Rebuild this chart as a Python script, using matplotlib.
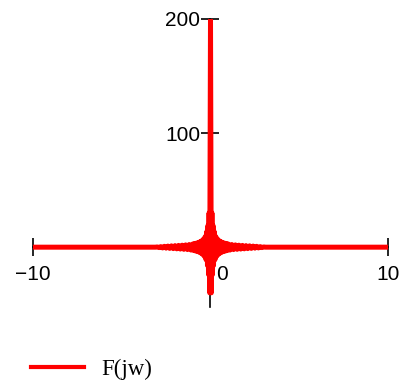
import numpy as np
import matplotlib
matplotlib.use("Agg")
import matplotlib.pyplot as plt

# Spectrum samples for w >= 0 (the curve is even in w)
w_pos = [0.045, 0.08, 0.11, 0.14, 0.17, 0.20, 0.25, 0.30, 0.35, 0.40,
         0.45, 0.50, 0.55, 0.60, 0.65, 0.70, 0.75, 0.80, 0.85, 0.90,
         0.95, 1.00, 1.10, 1.20, 1.30, 1.40, 1.50, 1.60, 1.70, 1.80,
         1.90, 2.00, 2.10, 2.20, 2.30, 2.40, 2.50, 2.60, 2.70, 2.80,
         2.90, 3.00, 3.10, 10.0]
F_pos = [-40.0, 30.0, -24.0, 19.0, -16.0, 14.0, -11.0, 9.3, -8.0, 7.0,
         -6.2, 5.6, -5.1, 4.7, -4.3, 4.0, -3.7, 3.5, -3.3, 3.1,
         -2.9, 2.8, -2.5, 2.3, -2.1, 2.0, -1.9, 1.75, -1.65, 1.55,
         -1.45, 1.35, -1.25, 1.15, -1.05, 0.95, -0.85, 0.75, -0.65, 0.5,
         -0.35, 0.2, 0.0, 0.0]
F_peak = 200.0

x_ticks = [-10, 0, 10]
x_ticklabels = ["\u221210", "", "10"]
y_ticks = [100, 200]
y_ticklabels = ["100", "200"]
x_limits = (-10, 10)
y_limits = (-52, 200)

wp = np.array(w_pos)
fp = np.array(F_pos)
w = np.concatenate([-wp[::-1], [0.0], wp])
F = np.concatenate([fp[::-1], [F_peak], fp])

plt.rcParams["font.family"] = ["Liberation Sans", "DejaVu Sans"]

fig = plt.figure(figsize=(4.09, 3.88), dpi=100)
ax = fig.add_axes([33 / 409, (388 - 306.5) / 388, (388 - 33) / 409, (306.5 - 19) / 388])

line, = ax.plot(w, F, color="#ff0000", linewidth=3.6, zorder=3,
                solid_joinstyle="round", label="F(jw)")

ax.set_xlim(*x_limits)
ax.set_ylim(*y_limits)

for side in ("top", "right"):
    ax.spines[side].set_visible(False)
ax.spines["left"].set_position(("data", 0))
ax.spines["bottom"].set_position(("data", 0))
for side in ("left", "bottom"):
    ax.spines[side].set_linewidth(1.2)
    ax.spines[side].set_color("black")

ax.set_xticks(x_ticks)
ax.set_xticklabels(x_ticklabels)
ax.set_yticks(y_ticks)
ax.set_yticklabels(y_ticklabels)
ax.tick_params(axis="both", direction="inout", length=13, width=1.2,
               labelsize=15, colors="black")
ax.tick_params(axis="x", pad=6)
ax.tick_params(axis="y", pad=1)

# label for the origin, set off to the lower right of the crossing
ax.annotate("0", xy=(0, 0), xytext=(8, -13), textcoords="offset points",
            ha="center", va="top", fontsize=15)

ax.patch.set_visible(False)

leg = fig.legend(handles=[line], loc="center left",
                 bbox_to_anchor=(31 / 409, 1 - 369 / 388),
                 frameon=False, borderpad=0, borderaxespad=0,
                 handlelength=2.3, handletextpad=0.75,
                 prop={"family": ["Liberation Serif", "DejaVu Serif"], "size": 16.5})
leg.get_lines()[0].set_linewidth(3.0)

fig.savefig("out.png", dpi=100)
